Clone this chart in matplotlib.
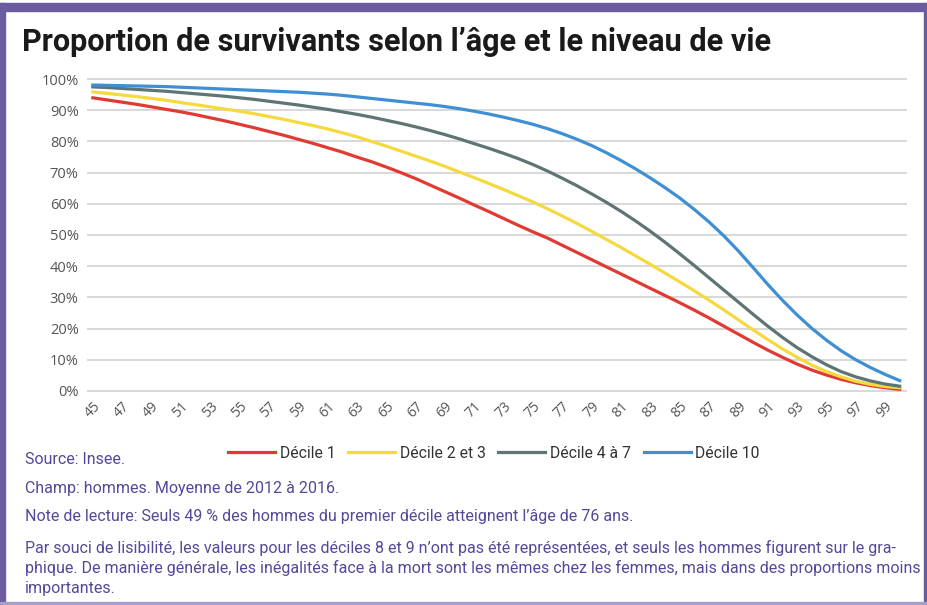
import matplotlib
matplotlib.use('Agg')
from matplotlib import pyplot as plt
from matplotlib.patches import Rectangle
from matplotlib.ticker import PercentFormatter

ages = list(range(45, 101))

decile_1 = [94.0, 93.3, 92.6, 91.9, 91.1, 90.3, 89.5, 88.6, 87.6, 86.6,
            85.5, 84.4, 83.2, 82.0, 80.7, 79.4, 78.0, 76.6, 75.0, 73.5,
            71.8, 70.0, 68.1, 66.0, 63.9, 61.8, 59.6, 57.5, 55.3, 53.1,
            51.0, 49.0, 46.7, 44.4, 42.1, 39.8, 37.5, 35.2, 32.9, 30.6,
            28.3, 25.9, 23.4, 20.8, 18.2, 15.6, 13.1, 10.8, 8.6, 6.7,
            5.1, 3.7, 2.6, 1.7, 1.0, 0.5]

decile_2_3 = [95.9, 95.4, 94.9, 94.4, 93.8, 93.2, 92.5, 91.8, 91.1, 90.4,
              89.7, 88.9, 88.0, 87.1, 86.1, 85.1, 84.0, 82.8, 81.5, 80.0,
              78.5, 76.9, 75.3, 73.7, 72.0, 70.2, 68.4, 66.5, 64.6, 62.6,
              60.6, 58.4, 56.1, 53.7, 51.2, 48.6, 46.0, 43.3, 40.6, 37.8,
              35.0, 32.1, 29.1, 26.0, 22.8, 19.6, 16.5, 13.5, 10.8, 8.3,
              6.2, 4.5, 3.1, 2.1, 1.4, 1.0]

decile_4_7 = [97.5, 97.3, 97.0, 96.7, 96.4, 96.1, 95.7, 95.3, 94.9, 94.5,
              94.0, 93.5, 92.9, 92.3, 91.7, 91.0, 90.3, 89.5, 88.7, 87.8,
              86.8, 85.8, 84.7, 83.5, 82.2, 80.8, 79.3, 77.8, 76.2, 74.5,
              72.6, 70.5, 68.2, 65.8, 63.2, 60.5, 57.6, 54.5, 51.2, 47.7,
              44.0, 40.2, 36.3, 32.4, 28.5, 24.6, 20.8, 17.2, 13.9, 11.0,
              8.4, 6.2, 4.5, 3.2, 2.2, 1.5]

decile_10 = [98.1, 98.0, 97.9, 97.8, 97.7, 97.6, 97.4, 97.2, 97.0, 96.8,
             96.6, 96.4, 96.2, 96.0, 95.8, 95.5, 95.2, 94.8, 94.3, 93.8,
             93.3, 92.8, 92.3, 91.8, 91.2, 90.5, 89.7, 88.8, 87.8, 86.7,
             85.5, 84.1, 82.5, 80.7, 78.7, 76.4, 73.9, 71.2, 68.3, 65.2,
             61.9, 58.2, 54.2, 49.8, 44.9, 39.6, 34.2, 29.1, 24.4, 20.1,
             16.3, 12.9, 10.0, 7.5, 5.3, 3.3]

series = [('Décile 1', decile_1, '#e03a33'),
          ('Décile 2 et 3', decile_2_3, '#f5d93e'),
          ('Décile 4 à 7', decile_4_7, '#5f7474'),
          ('Décile 10', decile_10, '#3f8fd2')]

narrow = ['Roboto', 'DejaVu Sans']
purple = '#6a5c9f'
note_color = '#54489a'

fig = plt.figure(figsize=(9.28, 6.05), dpi=100)
W, H = 928, 605
renderer = fig.canvas.get_renderer()


def fit_width(txt, width_px):
    bb = txt.get_window_extent(renderer)
    return txt.get_fontsize() * width_px / bb.width


# cadre violet
fig.patches.append(Rectangle((0, 1 - 11 / H), 1, 8 / H, transform=fig.transFigure,
                             color=purple, zorder=0))
fig.patches.append(Rectangle((0, 0), 5 / W, 1 - 3 / H, transform=fig.transFigure,
                             color=purple, zorder=0))
fig.patches.append(Rectangle((924 / W, 0), 2 / W, 1 - 3 / H, transform=fig.transFigure,
                             color=purple, zorder=0))
fig.patches.append(Rectangle((0, 1 / H), 926 / W, 2 / H, transform=fig.transFigure,
                             color='#a79fcb', zorder=0))

title = fig.text(22 / W, 1 - 42 / H, 'Proportion de survivants selon l’âge et le niveau de vie',
                 family=narrow, fontweight='bold', fontsize=20, color='#1a1a1a', va='center')
title.set_fontsize(fit_width(title, 746))

ax = fig.add_axes([87 / W, 1 - 394 / H, 820 / W, 318 / H])
for name, vals, col in series:
    ax.plot(ages, vals, color=col, lw=2.3, label=name)

ax.set_xlim(44.6, 100.5)
ax.set_ylim(-1, 101)
ax.set_yticks(range(0, 101, 10))
ax.yaxis.set_major_formatter(PercentFormatter(decimals=0))
ax.set_xticks(range(45, 100, 2))
ax.grid(axis='y', color='#d6d6d6', lw=1.3)
ax.set_axisbelow(True)
for s in ax.spines.values():
    s.set_visible(False)
ax.tick_params(length=0, colors='#555555', labelsize=10.5)
ax.tick_params(axis='y', pad=6)
for lab in ax.get_xticklabels():
    lab.set_rotation(45)
    lab.set_ha('right')
    lab.set_va('top')
    lab.set_rotation_mode('anchor')
    lab.set_fontsize(10)
for lab in ax.get_yticklabels() + ax.get_xticklabels():
    lab.set_family(['Open Sans', 'DejaVu Sans'])

leg = fig.legend(loc='center', bbox_to_anchor=(494 / W, 1 - 453 / H), ncol=4,
                 frameon=False, handlelength=3.0, handletextpad=0.3,
                 columnspacing=0.8, prop={'family': narrow, 'size': 11.3})
for t in leg.get_texts():
    t.set_color('#333333')

notes = [(460, 'Source: Insee.'),
         (489, 'Champ: hommes. Moyenne de 2012 à 2016.'),
         (517, 'Note de lecture: Seuls 49 % des hommes du premier décile atteignent l’âge de 76 ans.'),
         (548, 'Par souci de lisibilité, les valeurs pour les déciles 8 et 9 n’ont pas été représentées, '
               'et seuls les hommes figurent sur le gra-'),
         (568, 'phique. De manière générale, les inégalités face à la mort sont les mêmes chez les femmes, '
               'mais dans des proportions moins'),
         (588, 'importantes.')]
note_texts = []
for y, txt in notes:
    note_texts.append(fig.text(25 / W, 1 - y / H, txt, family=narrow, fontsize=11,
                               color=note_color, va='center'))
size = min(fit_width(note_texts[3], 880), fit_width(note_texts[4], 892))
for t in note_texts:
    t.set_fontsize(size)

fig.savefig('out.png', dpi=100, facecolor='white')
